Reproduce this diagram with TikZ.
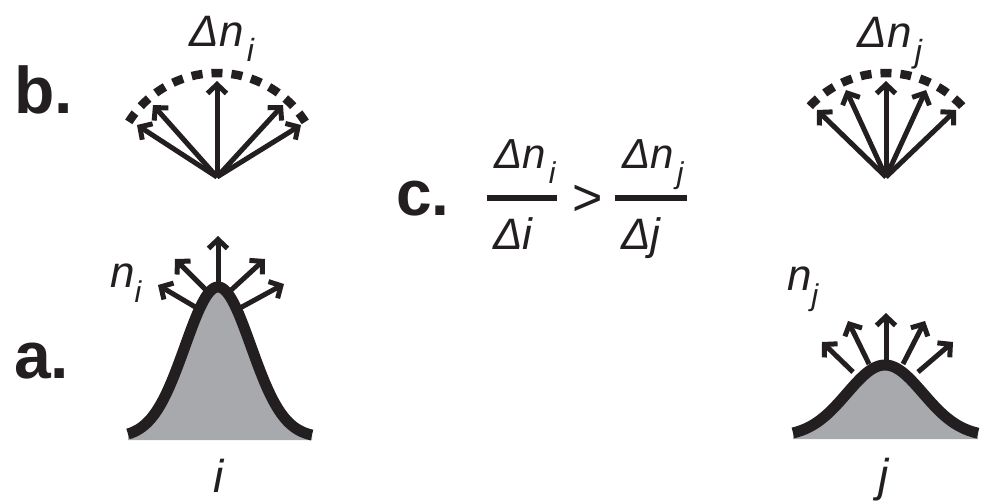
\documentclass[tikz,border=0pt]{standalone}
\usepackage{fontspec}
\setmainfont{Liberation Sans}
\usetikzlibrary{arrows.meta}
\definecolor{ink}{RGB}{35,31,32}
\definecolor{fillgray}{RGB}{167,169,172}
\newcommand\fsz[1]{\fontsize{#1}{#1}\selectfont}
\newcommand\lowsub[3]{\raisebox{-#2pt}{\fsz{#1}\itshape #3}}
\begin{document}
\begin{tikzpicture}[x=1pt,y=-1pt,
  arr/.style={ink,line width=5pt,-{Straight Barb[length=9pt,width=19pt]}},
  curve/.style={ink,line width=11pt},
  dots/.style={ink,line width=8.5pt,dash pattern=on 11pt off 9pt},
  lbl/.style={inner sep=0pt,text=ink},
  bar/.style={ink,line width=6pt}]
\useasboundingbox (0,0) rectangle (984,501);
\fill[white] (0,0) rectangle (984,501);

% ---- panel labels
\node[lbl,anchor=base west,font=\fsz{66}\bfseries] (lb) at (14,113) {b.};
\node[lbl,anchor=base west,font=\fsz{66}\bfseries] (la) at (14,378) {a.};
\node[lbl,anchor=base west,font=\fsz{64}\bfseries] (lc) at (396,215) {c.};

% ---- left gaussian (a, i)
\fill[fillgray] plot[domain=128:312,samples=120] (\x,{434-147*(exp(-((\x-218)^2)/2178)-0.0241)/0.9759}) -- (312,440) -- (128,440) -- cycle;
\coordinate (ai1s) at (197,308); \coordinate (ai1t) at (158,285);
\coordinate (ai2s) at (208,292); \coordinate (ai2t) at (175,259);
\coordinate (ai3s) at (218,287); \coordinate (ai3t) at (218,236);
\coordinate (ai4s) at (229,292); \coordinate (ai4t) at (265,259);
\coordinate (ai5s) at (240,308); \coordinate (ai5t) at (284,284);
\foreach \k in {1,...,5} \draw[arr] (ai\k s) -- (ai\k t);
\draw[curve] plot[domain=128:312,samples=120] (\x,{434-147*(exp(-((\x-218)^2)/2178)-0.0241)/0.9759});
\node[lbl,anchor=base west,font=\fsz{44}\itshape] (ni) at (110,287) {n\lowsub{30}{15}{i}};
\node[lbl,anchor=base,font=\fsz{46}\itshape] (ilab) at (219,492) {i};

% ---- right gaussian (a, j)
\fill[fillgray] plot[domain=793:978,samples=120] (\x,{433-68*(exp(-((\x-885)^2)/2888)-0.053)/0.947}) -- (978,439) -- (793,439) -- cycle;
\coordinate (aj1s) at (853,372); \coordinate (aj1t) at (822,342);
\coordinate (aj2s) at (869,364); \coordinate (aj2t) at (848,321);
\coordinate (aj3s) at (886,364); \coordinate (aj3t) at (886,313);
\coordinate (aj4s) at (903,364); \coordinate (aj4t) at (925,321);
\coordinate (aj5s) at (918,372); \coordinate (aj5t) at (953,342);
\foreach \k in {1,...,5} \draw[arr] (aj\k s) -- (aj\k t);
\draw[curve] plot[domain=793:978,samples=120] (\x,{433-68*(exp(-((\x-885)^2)/2888)-0.053)/0.947});
\node[lbl,anchor=base west,font=\fsz{44}\itshape] (nj) at (787,290) {n\lowsub{30}{15}{j}};
\node[lbl,anchor=base,font=\fsz{46}\itshape] (jlab) at (884,491) {j};

% ---- left fan (b, i)
\coordinate (fi) at (217,177);
\coordinate (fi1) at (137,125);
\coordinate (fi2) at (153,105);
\coordinate (fi3) at (217,81);
\coordinate (fi4) at (283,105);
\coordinate (fi5) at (301,125);
\foreach \k in {1,...,5} \draw[arr] (fi) -- (fi\k);
\draw[dots,dash phase=0.2pt] plot[domain=32:148,samples=100] ({217+104*cos(\x)},{177-104*sin(\x)});
\node[lbl,anchor=base,font=\fsz{44}\itshape] (dni) at (222,46) {Δn\hspace{3pt}\lowsub{32}{15}{i}};

% ---- right fan (b, j)
\coordinate (fj) at (886,177);
\coordinate (fj1) at (817,110);
\coordinate (fj2) at (846,90);
\coordinate (fj3) at (886,81);
\coordinate (fj4) at (926,90);
\coordinate (fj5) at (956,110);
\foreach \k in {1,...,5} \draw[arr] (fj) -- (fj\k);
\draw[dots,dash phase=14.7pt] plot[domain=40:140,samples=100] ({886+104*cos(\x)},{177-104*sin(\x)});
\node[lbl,anchor=base,font=\fsz{44}\itshape] (dnj) at (890,47) {Δn\hspace{3pt}\lowsub{32}{15}{j}};

% ---- c. inequality
\node[lbl,anchor=base,font=\fsz{42}\itshape] (numi) at (525,168) {Δn\hspace{3pt}\lowsub{30}{15}{i}};
\coordinate (bi1) at (487,198); \coordinate (bi2) at (557,198);
\draw[bar] (bi1) -- (bi2);
\node[lbl,anchor=base,font=\fsz{44}\itshape] (deni) at (513,249) {Δi};
\node[lbl,anchor=base,font=\fsz{52}] (gt) at (588,215) {>};
\node[lbl,anchor=base,font=\fsz{42}\itshape] (numj) at (653,168) {Δn\hspace{3pt}\lowsub{30}{15}{j}};
\coordinate (bj1) at (615,198); \coordinate (bj2) at (687,198);
\draw[bar] (bj1) -- (bj2);
\node[lbl,anchor=base,font=\fsz{44}\itshape] (denj) at (641,249) {Δj};
\end{tikzpicture}
\end{document}
